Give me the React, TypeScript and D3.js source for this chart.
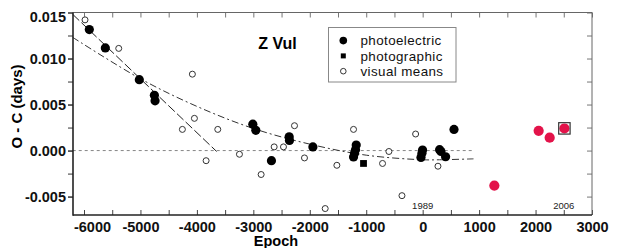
import React, { useEffect, useRef } from "react";
import * as d3 from "d3";

// O-C values (epoch, days)
const photoelectric: [number, number][] = [
  [-5906, 0.01314], [-5622, 0.01115], [-5020, 0.0077], [-4753, 0.006], [-4741, 0.0054],
  [-3009, 0.00287], [-2956, 0.0022], [-2679, -0.0011], [-2365, 0.0015], [-2360, 0.0011],
  [-1945, 0.0004], [-1177, 0.0006], [-1190, 0.0001], [-1207, -0.0003], [-1225, -0.0007],
  [-2, 0.00005], [-13, -0.0003], [-30, -0.00074], [300, 0.0001], [324, -0.0001],
  [406, -0.00067], [555, 0.0023]
];
const photographic: [number, number][] = [[-1048, -0.0014]];
const visualMeans: [number, number][] = [
  [-5982, 0.0142], [-5385, 0.0111], [-4080, 0.0083], [-4044, 0.0035], [-4257, 0.0023],
  [-3837, -0.0011], [-3630, 0.0023], [-3246, -0.0004], [-2862, -0.0026], [-2631, 0.0004],
  [-2466, 0.0004], [-2271, 0.0027], [-2094, -0.0008], [-1727, -0.0063], [-1520, -0.0016],
  [-1225, 0.0023], [-711, -0.0014], [-598, -0.0001], [-367, -0.0049], [-125, 0.0018],
  [271, -0.0017]
];
const recent: [number, number][] = [[1270, -0.0038], [2055, 0.00215], [2250, 0.0014], [2511, 0.0024]];
const boxedIndex = 3;

// fitted curves
const linearFit: [number, number][] = [[-6200, 0.0148], [-3650, -0.0001]];
const quadraticFit: [number, number][] = [
  [-6200, 0.0123], [-5000, 0.0078], [-4000, 0.0048], [-3000, 0.0024], [-2000, 0.0007],
  [-1000, -0.0005], [0, -0.001], [300, -0.001], [900, -0.0009]
];
const zeroLine: [number, number][] = [[-6200, 0], [900, 0]];

const yearLabels: { epoch: number; text: string }[] = [
  { epoch: 0, text: "1989" },
  { epoch: 2500, text: "2006" }
];
const xMajorTicks = [-6000, -5000, -4000, -3000, -2000, -1000, 0, 1000, 2000, 3000];
const xMinorTicks = d3.range(-6000, 3001, 500);
const yMajorTicks = [-0.005, 0, 0.005, 0.01, 0.015];
const yMinorTicks = [-0.005, -0.0025, 0, 0.0025, 0.005, 0.0075, 0.01, 0.0125, 0.015];
const legendItems = ["photoelectric", "photographic", "visual means"];

const FONT = "'Liberation Sans', Arial, Helvetica, sans-serif";

export default function App() {
  const svgRef = useRef<SVGSVGElement>(null);
  const width = 621;
  const height = 248;
  const left = 73, right = 592, top = 12.5, bottom = 215;

  useEffect(() => {
    const svg = d3.select(svgRef.current);
    svg.selectAll("*").remove();

    const x = d3.scaleLinear().domain([-6195, 3000]).range([left, right]);
    const y = d3.scaleLinear().domain([-0.007, 0.015]).range([bottom, top]);

    // fit lines
    const line = d3.line<[number, number]>().x(d => x(d[0])).y(d => y(d[1]));
    svg.append("path").datum(zeroLine).attr("d", line)
      .attr("fill", "none").attr("stroke", "#777").attr("stroke-width", 0.9).attr("stroke-dasharray", "3,3");
    svg.append("path").datum(linearFit).attr("d", line)
      .attr("fill", "none").attr("stroke", "#222").attr("stroke-width", 1).attr("stroke-dasharray", "9,3");
    svg.append("path").datum(quadraticFit).attr("d", line.curve(d3.curveCatmullRom))
      .attr("fill", "none").attr("stroke", "#333").attr("stroke-width", 1).attr("stroke-dasharray", "7,3,2,3");

    // axes
    const styleAxis = (g: any, color: string, w: number) => {
      g.select(".domain").remove();
      g.selectAll(".tick line").attr("stroke", color).attr("stroke-width", w);
      g.selectAll(".tick text").attr("fill", "#111").attr("font-family", FONT)
        .attr("font-size", 14.5).attr("font-weight", "bold");
    };
    svg.append("g").attr("transform", `translate(0,${bottom})`)
      .call(d3.axisBottom(x).tickValues(xMinorTicks).tickSize(-5).tickFormat(() => ""))
      .call(g => styleAxis(g, "#444", 1));
    const xl = svg.append("g").attr("transform", `translate(0,${bottom})`)
      .call(d3.axisBottom(x).tickValues(xMajorTicks).tickSize(0).tickPadding(7).tickFormat(d => String(d)))
      .call(g => styleAxis(g, "#444", 1));
    xl.selectAll(".tick text").filter((d: any) => d === -6000).attr("dx", 8);
    svg.append("g").attr("transform", `translate(0,${top})`)
      .call(d3.axisTop(x).tickValues(xMinorTicks).tickSize(-5).tickFormat(() => ""))
      .call(g => styleAxis(g, "#777", 1));
    svg.append("g").attr("transform", `translate(${left},0)`)
      .call(d3.axisLeft(y).tickValues(yMinorTicks).tickSize(5).tickFormat(() => ""))
      .call(g => styleAxis(g, "#333", 1));
    const yl = svg.append("g").attr("transform", `translate(${left},0)`)
      .call(d3.axisLeft(y).tickValues(yMajorTicks).tickSize(5).tickPadding(2)
        .tickFormat(d => d3.format(".3f")(d as number).replace("\u2212", "-")))
      .call(g => styleAxis(g, "#333", 1));
    yl.selectAll(".tick text").filter((d: any) => d === 0.015).attr("dy", "0.65em");
    svg.append("g").attr("transform", `translate(${right},0)`)
      .call(d3.axisRight(y).tickValues(yMinorTicks).tickSize(-5).tickFormat(() => ""))
      .call(g => styleAxis(g, "#777", 1));

    // frame
    svg.append("line").attr("x1", left).attr("x2", right).attr("y1", top).attr("y2", top)
      .attr("stroke", "#666").attr("stroke-width", 1);
    svg.append("line").attr("x1", right).attr("x2", right).attr("y1", top).attr("y2", bottom)
      .attr("stroke", "#666").attr("stroke-width", 1);
    svg.append("line").attr("x1", left).attr("x2", left).attr("y1", top).attr("y2", bottom + 0.75)
      .attr("stroke", "#222").attr("stroke-width", 1.6);
    svg.append("line").attr("x1", left).attr("x2", right).attr("y1", bottom).attr("y2", bottom)
      .attr("stroke", "#222").attr("stroke-width", 1.6);

    // points
    svg.append("g").selectAll("circle").data(visualMeans).enter().append("circle")
      .attr("cx", d => x(d[0])).attr("cy", d => y(d[1])).attr("r", 3)
      .attr("fill", "white").attr("stroke", "#333").attr("stroke-width", 1);
    svg.append("g").selectAll("circle").data(photoelectric).enter().append("circle")
      .attr("cx", d => x(d[0])).attr("cy", d => y(d[1])).attr("r", 4.6).attr("fill", "#000");
    svg.append("g").selectAll("rect").data(photographic).enter().append("rect")
      .attr("x", d => x(d[0]) - 3.4).attr("y", d => y(d[1]) - 3.4)
      .attr("width", 6.8).attr("height", 6.8).attr("fill", "#000");
    svg.append("g").selectAll("circle").data(recent).enter().append("circle")
      .attr("cx", d => x(d[0])).attr("cy", d => y(d[1])).attr("r", 5.1).attr("fill", "#e3134a");
    const b = recent[boxedIndex];
    svg.append("rect").attr("x", x(b[0]) - 5.7).attr("y", y(b[1]) - 5.8)
      .attr("width", 11.4).attr("height", 11.4).attr("fill", "none")
      .attr("stroke", "#333").attr("stroke-width", 1.2);

    // year labels
    svg.append("g").selectAll("text").data(yearLabels).enter().append("text")
      .attr("x", d => x(d.epoch)).attr("y", 208.5).attr("text-anchor", "middle")
      .attr("font-family", FONT).attr("font-size", 9.5).attr("fill", "#222")
      .text(d => d.text);

    // title
    svg.append("text").attr("x", 277.5).attr("y", 49).attr("text-anchor", "middle")
      .attr("font-family", FONT).attr("font-size", 16).attr("font-weight", "bold").text("Z Vul");

    // legend
    const lg = svg.append("g");
    lg.append("rect").attr("x", 328.5).attr("y", 27.5).attr("width", 127.5).attr("height", 54.5)
      .attr("fill", "white").attr("stroke", "#888").attr("stroke-width", 1);
    legendItems.forEach((label, i) => {
      const cy = 40.6 + i * 15.3;
      if (i === 0) lg.append("circle").attr("cx", 343.3).attr("cy", cy).attr("r", 3.8).attr("fill", "#000");
      if (i === 1) lg.append("rect").attr("x", 340.8).attr("y", cy - 2.5).attr("width", 5).attr("height", 5).attr("fill", "#000");
      if (i === 2) lg.append("circle").attr("cx", 343.3).attr("cy", cy).attr("r", 2.8)
        .attr("fill", "white").attr("stroke", "#333").attr("stroke-width", 1);
      lg.append("text").attr("x", 360.5).attr("y", cy + 4.6)
        .attr("font-family", FONT).attr("font-size", 13.4).attr("letter-spacing", 0.4)
        .attr("fill", "#111").text(label);
    });

    // axis titles
    svg.append("text").attr("x", 276).attr("y", 245.5).attr("text-anchor", "middle")
      .attr("font-family", FONT).attr("font-size", 14.5).attr("font-weight", "bold").text("Epoch");
    svg.append("text").attr("transform", "translate(21.5,106.5) rotate(-90)").attr("text-anchor", "middle")
      .attr("font-family", FONT).attr("font-size", 15).attr("font-weight", "bold").text("O - C (days)");
  }, []);

  return (
    <div style={{ position: "absolute", left: 0, top: 0 }}>
      <svg ref={svgRef} width={width} height={height} style={{ display: "block", background: "white" }} />
    </div>
  );
}
